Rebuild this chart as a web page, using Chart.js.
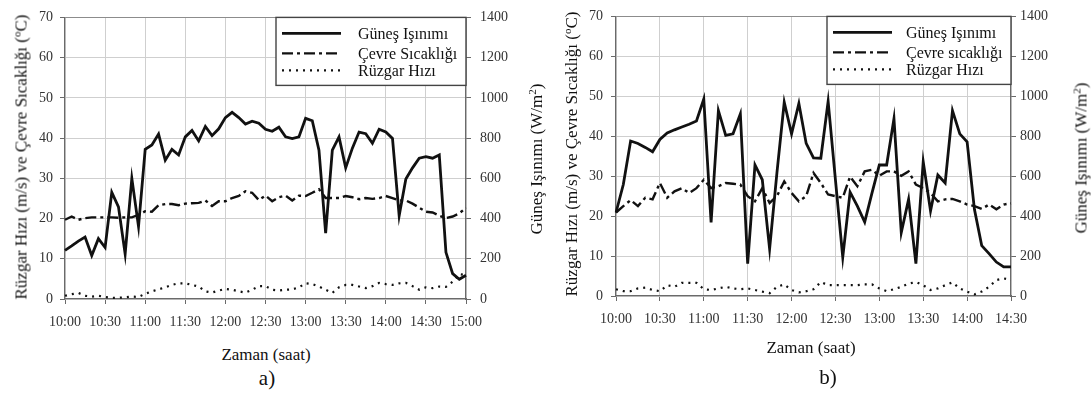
<!DOCTYPE html>
<html>
<head>
<meta charset="utf-8">
<script src="https://cdn.jsdelivr.net/npm/chart.js@4.4.1/dist/chart.umd.min.js"></script>
<style>
  html, body { margin: 0; padding: 0; background: #fff; }
  body { width: 1091px; height: 394px; position: relative; overflow: hidden;
         font-family: "Liberation Serif", "Times New Roman", "DejaVu Serif", serif; color: #111; }
  .box { position: absolute; top: 0; height: 340px; }
  #boxA { left: 0; width: 545px; }
  #boxB { left: 545px; width: 546px; }
  .t { position: absolute; white-space: nowrap; font-size: 17px; line-height: 1; }
  .rot { transform: translate(-50%, -50%) rotate(-90deg); }
  .hz { transform: translate(-50%, -50%); }
  .tag { font-size: 21px; }
  sup { font-size: 0.65em; vertical-align: 0.5em; line-height: 0; }
</style>
</head>
<body>
<div class="box" id="boxA"><canvas id="chartA" width="545" height="340"></canvas></div>
<div class="box" id="boxB"><canvas id="chartB" width="546" height="340"></canvas></div>

<div class="t rot" style="left:21px;top:157px">Rüzgar Hızı (m/s) ve Çevre Sıcaklığı (<sup>o</sup>C)</div>
<div class="t rot" style="left:536px;top:159px">Güneş Işınımı (W/m<sup>2</sup>)</div>
<div class="t hz" style="left:266px;top:354px">Zaman (saat)</div>
<div class="t hz tag" style="left:267px;top:378px">a)</div>

<div class="t rot" style="left:571px;top:154px">Rüzgar Hızı (m/s) ve Çevre Sıcaklığı (<sup>o</sup>C)</div>
<div class="t rot" style="left:1081px;top:158px">Güneş Işınımı (W/m<sup>2</sup>)</div>
<div class="t hz" style="left:811px;top:347px">Zaman (saat)</div>
<div class="t hz tag" style="left:828px;top:377px">b)</div>

<script>
// 5 dakikalık ölçüm zamanları
function makeTimes(from, to) {
  const out = [];
  for (let m = from; m <= to; m += 5) {
    out.push(Math.floor(m / 60) + ':' + String(m % 60).padStart(2, '0'));
  }
  return out;
}

// a) 10:00 - 15:00
const timesA = makeTimes(600, 900);
const radiationA = [
  242, 264, 288, 308, 216, 300, 256, 530, 458, 224, 600, 360,
  744, 766, 820, 690, 744, 716, 806, 838, 786, 858, 812, 846,
  902, 928, 902, 870, 884, 874, 844, 834, 854, 806, 798, 806,
  898, 886, 740, 328, 740, 806, 652, 750, 830, 822, 774, 844,
  830, 798, 414, 596, 652, 700, 708, 700, 716, 232, 126, 98,
  118
];
const temperatureA = [
  19.7, 20.5, 19.7, 20.1, 20.3, 20.3, 20.3, 20.3, 20.2, 20.3, 20.3, 20.9,
  21.8, 21.7, 23.3, 23.6, 23.6, 23.3, 23.7, 23.8, 23.9, 24.5, 23.1, 24.3,
  24.3, 25.1, 25.6, 26.8, 26.4, 24.6, 25.7, 24.3, 25.3, 25.7, 24.5, 25.7,
  25.6, 26.4, 27.3, 25.1, 25.1, 25.1, 25.6, 25.3, 24.8, 25.1, 24.9, 25.1,
  25.6, 25.1, 24.5, 24.5, 23.7, 22.7, 21.7, 21.5, 20.7, 20.1, 20.5, 21.3,
  22.7
];
const windA = [
  0.8, 1.2, 1.5, 0.8, 0.6, 0.8, 0.5, 0.3, 0.3, 0.4, 0.6, 0.5,
  1.3, 1.9, 2.4, 2.9, 3.5, 3.9, 3.9, 3.5, 3.1, 1.9, 1.6, 2.1,
  2.5, 2.3, 1.9, 1.6, 2.3, 3.2, 3.2, 2.3, 2.1, 2.3, 2.4, 2.9,
  3.9, 3.7, 3.1, 2.3, 1.5, 2.9, 3.5, 3.5, 3.1, 2.7, 3.2, 4.0,
  3.7, 3.5, 3.9, 4.0, 3.2, 2.3, 2.9, 2.7, 3.1, 3.0, 4.3, 6.2,
  5.9
];

// b) 10:00 - 14:30
const timesB = makeTimes(600, 870);
const radiationB = [
  418, 558, 776, 764, 744, 722, 784, 816, 832, 846, 860, 876,
  986, 368, 928, 804, 812, 912, 162, 656, 582, 236, 616, 970,
  812, 964, 764, 692, 690, 974, 582, 194, 520, 450, 370, 516,
  656, 656, 888, 318, 484, 162, 672, 426, 606, 566, 928, 812,
  772, 434, 252, 212, 170, 146, 146
];
const temperatureB = [
  20.9, 22.5, 24.0, 22.5, 24.6, 24.2, 28.3, 24.6, 26.2, 27.0, 25.8, 27.0,
  29.1, 27.0, 27.5, 28.3, 28.1, 27.9, 25.0, 23.7, 27.0, 23.3, 25.0, 28.7,
  25.8, 23.7, 25.0, 30.8, 28.3, 25.4, 25.0, 24.6, 29.9, 27.5, 31.2, 31.6,
  30.1, 31.2, 31.2, 30.1, 31.2, 27.9, 27.0, 25.8, 23.7, 24.2, 24.3, 23.7,
  22.9, 22.5, 21.8, 22.9, 21.7, 22.9, 23.2
];
const windB = [
  1.7, 1.2, 1.2, 1.9, 2.1, 1.5, 1.2, 2.7, 2.3, 3.3, 3.3, 3.3,
  1.7, 1.5, 1.9, 2.3, 1.9, 1.7, 1.9, 1.5, 1.1, 0.7, 2.3, 2.9,
  1.5, 0.9, 1.2, 1.7, 3.5, 2.7, 2.7, 2.7, 2.7, 2.7, 2.9, 2.9,
  1.9, 1.2, 1.7, 2.3, 3.1, 3.5, 2.7, 1.5, 1.9, 2.7, 3.4, 1.9,
  1.1, 0.4, 1.1, 2.3, 4.0, 4.4, 4.0
];

const leftTicks = [0, 10, 20, 30, 40, 50, 60, 70];
const rightTicks = [0, 200, 400, 600, 800, 1000, 1200, 1400];

const FONT = '"Liberation Serif", "Times New Roman", "DejaVu Serif", serif';
const GRID = '#cfcfcf';
const AXIS = '#6a6a6a';

// legend drawn inside the plot, top right, with a frame
const boxLegend = {
  id: 'boxLegend',
  afterDraw(chart, args, opts) {
    const { ctx, chartArea } = chart;
    const x0 = chartArea.right - opts.width;
    const y0 = chartArea.top;
    ctx.save();
    ctx.fillStyle = '#fff';
    ctx.fillRect(x0, y0, opts.width, opts.height);
    ctx.strokeStyle = '#444';
    ctx.lineWidth = 1.4;
    ctx.strokeRect(x0, y0, opts.width, opts.height);
    chart.data.datasets.forEach((ds, i) => {
      const y = y0 + opts.rows[i];
      ctx.beginPath();
      ctx.setLineDash(ds.borderDash || []);
      ctx.lineWidth = ds.borderWidth;
      ctx.strokeStyle = ds.borderColor;
      ctx.moveTo(x0 + 6, y);
      ctx.lineTo(x0 + 65, y);
      ctx.stroke();
      ctx.setLineDash([]);
      ctx.fillStyle = '#111';
      ctx.font = '16px ' + FONT;
      ctx.textBaseline = 'middle';
      ctx.fillText(opts.labels[i], x0 + opts.textX, y + 1);
    });
    ctx.restore();
  }
};

function showChart(id, times, radiation, temperature, wind, cfg) {
  const ctx = document.getElementById(id).getContext('2d');
  return new Chart(ctx, {
    type: 'line',
    data: {
      labels: times,
      datasets: [
        {
          label: cfg.labels[0],
          data: radiation,
          yAxisID: 'y1',
          borderColor: '#111',
          borderWidth: 2.8,
          pointRadius: 0,
          tension: 0
        },
        {
          label: cfg.labels[1],
          data: temperature,
          yAxisID: 'y',
          borderColor: '#111',
          borderWidth: 2.4,
          borderDash: [11, 4, 3, 4],
          pointRadius: 0,
          tension: 0
        },
        {
          label: cfg.labels[2],
          data: wind,
          yAxisID: 'y',
          borderColor: '#111',
          borderWidth: 2.2,
          borderDash: [2, 5],
          pointRadius: 0,
          tension: 0
        }
      ]
    },
    options: {
      responsive: false,
      animation: false,
      devicePixelRatio: 1,
      layout: { padding: { top: cfg.top, left: 0, right: 0, bottom: 0 } },
      plugins: {
        legend: { display: false },
        tooltip: { enabled: false },
        boxLegend: { width: cfg.legendWidth, height: 68, rows: [16, 36, 53], textX: cfg.textX, labels: cfg.labels }
      },
      scales: {
        x: {
          type: 'category',
          offset: false,
          border: { color: AXIS, width: 1.2 },
          grid: {
            color: c => (c.index % 6 === 0 ? GRID : 'rgba(0,0,0,0)'),
            tickColor: c => (c.index % 6 === 0 ? AXIS : 'rgba(0,0,0,0)'),
            tickLength: 5
          },
          ticks: {
            autoSkip: false,
            maxRotation: 0,
            minRotation: 0,
            padding: cfg.xPad,
            color: '#333',
            font: { family: FONT, size: 14 },
            callback: function (v, i) { return i % 6 === 0 ? this.getLabelForValue(v) : ''; }
          },
          afterFit: s => { s.height = cfg.xh; }
        },
        y: {
          position: 'left',
          min: 0,
          max: 70,
          afterBuildTicks: s => { s.ticks = leftTicks.map(v => ({ value: v })); },
          border: { color: AXIS, width: 1.2 },
          grid: {
            color: c => (c.tick && c.tick.value === 70 ? '#8c8c8c' : GRID),
            tickColor: AXIS,
            tickLength: 5
          },
          ticks: { padding: cfg.yPad, color: '#333', font: { family: FONT, size: 14 }, callback: v => String(v) },
          afterFit: s => { s.width = cfg.yw; }
        },
        y1: {
          position: 'right',
          min: 0,
          max: 1400,
          afterBuildTicks: s => { s.ticks = rightTicks.map(v => ({ value: v })); },
          border: { color: AXIS, width: 1.2 },
          grid: { drawOnChartArea: false, tickColor: AXIS, tickLength: 5 },
          ticks: { padding: cfg.y1Pad, color: '#333', font: { family: FONT, size: 14 }, callback: v => String(v) },
          afterFit: s => { s.width = cfg.y1w; }
        }
      }
    },
    plugins: [boxLegend]
  });
}

showChart('chartA', timesA, radiationA, temperatureA, windA, {
  top: 11, yw: 65, y1w: 79, xh: 41, xPad: 10, yPad: 7, y1Pad: 9,
  legendWidth: 190, textX: 82,
  labels: ['Güneş Işınımı', 'Çevre Sıcaklığı', 'Rüzgar Hızı']
});

showChart('chartB', timesB, radiationB, temperatureB, windB, {
  top: 13, yw: 71, y1w: 80, xh: 44, xPad: 10, yPad: 8, y1Pad: 4,
  legendWidth: 184, textX: 79,
  labels: ['Güneş Işınımı', 'Çevre sıcaklığı', 'Rüzgar Hızı']
});
</script>
</body>
</html>
